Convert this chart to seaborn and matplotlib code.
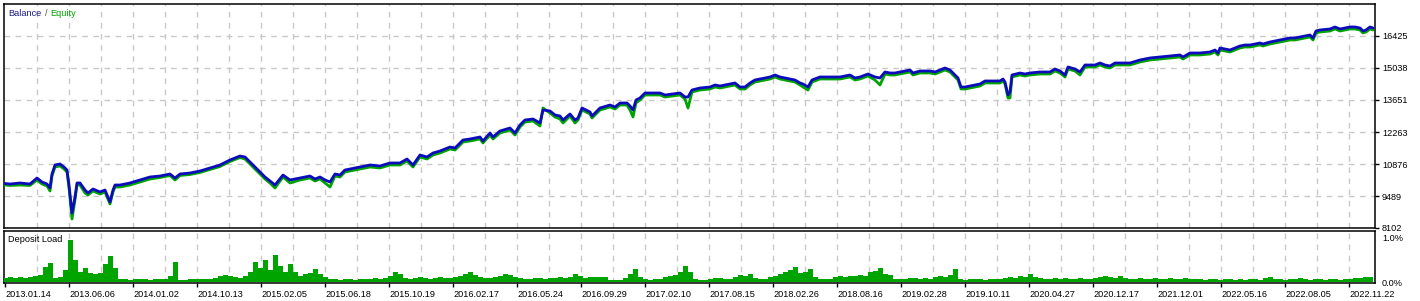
import numpy as np
import pandas as pd
import matplotlib
matplotlib.use("Agg")
import matplotlib.pyplot as plt
import seaborn as sns

# ---------------- data ----------------
deal = [0, 10, 20, 30, 37, 42, 47, 50, 52, 55, 60, 64, 67, 69, 72, 75, 77, 80, 85, 88,
        93, 100, 105, 110, 113, 115, 120, 130, 140, 150, 160, 170, 175, 180, 190, 200, 210, 220, 230, 240,
        245, 250, 255, 260, 265, 270, 275, 283, 290, 300, 310, 315, 320, 325, 330, 335, 340, 345, 350, 360,
        370, 380, 390, 400, 407, 413, 420, 427, 433, 440, 450, 455, 463, 470, 480, 483, 490, 493, 500, 510,
        515, 520, 525, 533, 540, 543, 550, 555, 560, 563, 570, 575, 578, 582, 590, 592, 600, 610, 615, 620,
        627, 630, 633, 636, 640, 645, 650, 660, 665, 680, 685, 688, 692, 700, 710, 715, 720, 725, 735, 740,
        745, 750, 755, 760, 770, 775, 780, 790, 795, 800, 803, 808, 812, 820, 830, 840, 850, 855, 860, 868,
        875, 880, 885, 890, 895, 900, 910, 913, 920, 930, 935, 940, 945, 950, 955, 958, 961, 965, 970, 975,
        980, 985, 990, 1000, 1003, 1005, 1008, 1010, 1012, 1020, 1025, 1030, 1040, 1050, 1055, 1060, 1065, 1068, 1075, 1080,
        1085, 1095, 1100, 1105, 1110, 1115, 1125, 1130, 1140, 1150, 1160, 1170, 1180, 1183, 1190, 1200, 1210, 1215, 1218, 1220,
        1225, 1230, 1235, 1240, 1245, 1250, 1255, 1260, 1263, 1270, 1275, 1280, 1285, 1290, 1295, 1300, 1305, 1310, 1313, 1316,
        1320, 1330, 1335, 1340, 1345, 1350, 1355, 1360, 1363, 1366, 1370, 1373]

balance = [10053, 10009, 10053, 10009, 10269, 10096, 10009, 9836, 10443, 10833, 10876, 10746, 10616, 9966, 8752, 9446, 10053, 10053, 9749, 9619,
           9793, 9663, 9749, 9229, 9749, 9966, 9966, 10053, 10183, 10313, 10356, 10443, 10269, 10443, 10486, 10573, 10703, 10833, 11050, 11223,
           11180, 10963, 10746, 10530, 10313, 10139, 9966, 10399, 10183, 10269, 10356, 10226, 10313, 10183, 10096, 10443, 10399, 10616, 10660, 10746,
           10833, 10790, 10920, 10920, 11093, 10833, 11267, 11180, 11353, 11440, 11613, 11570, 11917, 11960, 12047, 11873, 12220, 12047, 12307, 12437,
           12220, 12567, 12784, 12827, 12654, 13217, 13174, 13001, 12957, 12784, 13044, 12784, 12871, 13304, 13131, 12957, 13304, 13434, 13347, 13521,
           13521, 13391, 13217, 13651, 13738, 13954, 13954, 13954, 13868, 13954, 13781, 13781, 14084, 14171, 14214, 14301, 14258, 14301, 14388, 14214,
           14214, 14388, 14518, 14561, 14648, 14735, 14648, 14561, 14518, 14388, 14344, 14214, 14518, 14648, 14648, 14648, 14735, 14605, 14648, 14778,
           14648, 14605, 14865, 14821, 14821, 14865, 14951, 14821, 14908, 14908, 14865, 14951, 15038, 14951, 14735, 14605, 14214, 14214, 14258, 14301,
           14344, 14475, 14475, 14475, 14561, 14431, 13868, 13998, 14735, 14821, 14778, 14821, 14865, 14865, 14995, 14908, 14735, 15081, 14995, 14865,
           15168, 15168, 15255, 15168, 15125, 15255, 15255, 15255, 15385, 15472, 15515, 15558, 15602, 15515, 15688, 15688, 15732, 15818, 15688, 15905,
           15862, 15818, 15905, 15992, 16035, 16035, 16079, 16122, 16079, 16165, 16209, 16252, 16295, 16339, 16339, 16382, 16425, 16469, 16339, 16642,
           16686, 16729, 16816, 16729, 16772, 16816, 16816, 16772, 16642, 16686, 16816, 16772]

equity = [9988, 9945, 9966, 9945, 10183, 10009, 9923, 9706, 10356, 10746, 10790, 10660, 10530, 9836, 8492, 9316, 9966, 9966, 9619, 9532,
          9706, 9576, 9663, 9142, 9663, 9879, 9879, 9966, 10096, 10226, 10291, 10378, 10183, 10378, 10421, 10508, 10638, 10768, 10985, 11158,
          11093, 10876, 10660, 10443, 10226, 10053, 9836, 10313, 10053, 10183, 10269, 10139, 10226, 10053, 9879, 10356, 10313, 10530, 10573, 10660,
          10746, 10703, 10833, 10833, 11006, 10746, 11180, 11093, 11267, 11353, 11527, 11483, 11830, 11873, 11960, 11787, 12134, 11960, 12220, 12350,
          12134, 12480, 12697, 12740, 12524, 13304, 13087, 12914, 12827, 12654, 12957, 12654, 12784, 13217, 13044, 12871, 13217, 13347, 13261, 13434,
          13434, 13217, 12914, 13521, 13651, 13868, 13868, 13868, 13781, 13868, 13694, 13304, 13998, 14084, 14128, 14214, 14171, 14214, 14301, 14128,
          14128, 14301, 14431, 14475, 14561, 14648, 14561, 14475, 14431, 14301, 14214, 14084, 14431, 14561, 14561, 14561, 14648, 14518, 14561, 14691,
          14518, 14301, 14778, 14735, 14735, 14778, 14865, 14735, 14821, 14821, 14778, 14865, 14951, 14865, 14648, 14518, 14128, 14128, 14171, 14214,
          14258, 14388, 14388, 14388, 14475, 14344, 13738, 13738, 14648, 14735, 14691, 14735, 14778, 14778, 14908, 14821, 14648, 14995, 14908, 14735,
          15081, 15081, 15168, 15081, 15038, 15168, 15168, 15168, 15298, 15385, 15428, 15472, 15515, 15428, 15602, 15602, 15645, 15732, 15602, 15818,
          15775, 15732, 15818, 15905, 15949, 15949, 15992, 16035, 15992, 16079, 16122, 16165, 16209, 16252, 16252, 16295, 16339, 16382, 16252, 16555,
          16599, 16642, 16729, 16642, 16686, 16729, 16729, 16686, 16555, 16599, 16729, 16686]

load_deal = list(range(0, 1371, 5))
load_pct = [0.07, 0.09, 0.11, 0.09, 0.11, 0.09, 0.11, 0.13, 0.16, 0.33,
            0.42, 0.09, 0.11, 0.27, 0.93, 0.49, 0.22, 0.31, 0.20, 0.18,
            0.20, 0.40, 0.58, 0.31, 0.07, 0.07, 0.04, 0.07, 0.07, 0.07,
            0.04, 0.07, 0.07, 0.07, 0.13, 0.44, 0.04, 0.04, 0.07, 0.07,
            0.07, 0.07, 0.07, 0.09, 0.13, 0.16, 0.13, 0.11, 0.09, 0.13,
            0.22, 0.44, 0.31, 0.49, 0.27, 0.60, 0.36, 0.22, 0.40, 0.22,
            0.13, 0.18, 0.20, 0.29, 0.18, 0.11, 0.07, 0.07, 0.04, 0.07,
            0.07, 0.04, 0.07, 0.07, 0.07, 0.09, 0.07, 0.09, 0.13, 0.22,
            0.18, 0.09, 0.07, 0.09, 0.11, 0.09, 0.07, 0.09, 0.11, 0.09,
            0.09, 0.11, 0.13, 0.18, 0.22, 0.16, 0.11, 0.09, 0.09, 0.11,
            0.13, 0.18, 0.16, 0.11, 0.09, 0.07, 0.07, 0.09, 0.09, 0.07,
            0.09, 0.09, 0.11, 0.09, 0.11, 0.18, 0.13, 0.09, 0.11, 0.11,
            0.11, 0.11, 0.04, 0.04, 0.04, 0.09, 0.18, 0.29, 0.11, 0.07,
            0.04, 0.07, 0.07, 0.11, 0.13, 0.16, 0.22, 0.36, 0.22, 0.07,
            0.04, 0.04, 0.07, 0.09, 0.09, 0.07, 0.07, 0.11, 0.16, 0.13,
            0.18, 0.09, 0.07, 0.07, 0.11, 0.13, 0.18, 0.22, 0.27, 0.33,
            0.20, 0.22, 0.29, 0.11, 0.07, 0.07, 0.07, 0.11, 0.13, 0.11,
            0.13, 0.13, 0.16, 0.13, 0.22, 0.24, 0.31, 0.18, 0.16, 0.07,
            0.07, 0.07, 0.09, 0.09, 0.07, 0.09, 0.07, 0.11, 0.13, 0.11,
            0.16, 0.29, 0.07, 0.04, 0.07, 0.07, 0.07, 0.04, 0.07, 0.07,
            0.07, 0.09, 0.11, 0.09, 0.13, 0.11, 0.18, 0.11, 0.09, 0.07,
            0.07, 0.09, 0.07, 0.09, 0.07, 0.07, 0.09, 0.07, 0.07, 0.09,
            0.11, 0.13, 0.11, 0.09, 0.13, 0.09, 0.07, 0.07, 0.09, 0.07,
            0.07, 0.09, 0.07, 0.07, 0.09, 0.07, 0.07, 0.09, 0.07, 0.07,
            0.07, 0.04, 0.07, 0.07, 0.04, 0.07, 0.07, 0.04, 0.07, 0.04,
            0.07, 0.07, 0.04, 0.09, 0.11, 0.07, 0.07, 0.04, 0.07, 0.07,
            0.09, 0.07, 0.04, 0.07, 0.07, 0.04, 0.07, 0.07, 0.04, 0.07,
            0.07, 0.09, 0.09, 0.11, 0.11]

date_labels = ["2013.01.14", "2013.06.06", "2014.01.02", "2014.10.13", "2015.02.05", "2015.06.18",
               "2015.10.19", "2016.02.17", "2016.05.24", "2016.09.29", "2017.02.10", "2017.08.15",
               "2018.02.26", "2018.08.16", "2019.02.28", "2019.10.11", "2020.04.27", "2020.12.17",
               "2021.12.01", "2022.05.16", "2022.08.05", "2022.11.22"]
balance_ticks = [8102, 9489, 10876, 12263, 13651, 15038, 16425]
balance_top = 17812
load_ticks = [0.0, 1.0]
load_tick_labels = ["0.0%", "1.0%"]

# ---------------- style ----------------
sns.set_theme(style="white")
plt.rcParams['font.family'] = ['Liberation Sans', 'DejaVu Sans']
plt.rcParams['font.size'] = 6.6

BLUE = '#0C0CBC'
GREEN = '#00A400'
GRID = '#c8c8c8'

W, H = 1420, 301
fig = plt.figure(figsize=(W / 100, H / 100), dpi=100)
fig.patch.set_facecolor('white')
ax1 = fig.add_axes([4 / W, 1 - 228 / H, 1371 / W, 224 / H])
ax2 = fig.add_axes([4 / W, 1 - 283 / H, 1371 / W, 52 / H])

df = pd.DataFrame({'deal': deal, 'balance': balance, 'equity': equity})
sns.lineplot(data=df, x='deal', y='equity', color=GREEN, linewidth=2.0, ax=ax1, zorder=3)
sns.lineplot(data=df, x='deal', y='balance', color=BLUE, linewidth=2.0, ax=ax1, zorder=4)

sns.barplot(x=load_deal, y=load_pct, native_scale=True, color=GREEN, saturation=1,
            width=1.0, linewidth=0, errorbar=None, ax=ax2, zorder=3)

x_lo, x_hi = 4, 1375
n_grid = 43
grid_x = [5 + 32 * k for k in range(1, n_grid)]
label_x = [5 + 64 * k for k in range(len(date_labels))]

for ax in (ax1, ax2):
    ax.set_xlim(x_lo, x_hi)
    ax.set_xlabel('')
    ax.set_ylabel('')
    ax.set_facecolor('white')
    ax.set_axisbelow(True)
    for s in ax.spines.values():
        s.set_color('black')
        s.set_linewidth(1.1)
        s.set_visible(True)
    for gx in grid_x:
        ax.axvline(gx, color=GRID, linestyle=(0, (4, 4)), linewidth=1.0, zorder=1)

# top panel
ax1.set_ylim(balance_ticks[0], balance_top)
ax1.yaxis.tick_right()
ax1.set_yticks(balance_ticks)
ax1.set_yticklabels([str(v) for v in balance_ticks])
ax1.tick_params(axis='y', right=True, left=False, length=3, width=1, color='black', pad=2,
                labelsize=6.6, labelcolor='black')
ax1.set_xticks([])
for gy in balance_ticks[1:]:
    ax1.axhline(gy, color=GRID, linestyle=(0, (4, 4)), linewidth=1.0, zorder=1)

# bottom panel
ax2.set_ylim(-0.022, 1.134)
ax2.yaxis.tick_right()
ax2.set_yticks(load_ticks)
ax2.set_yticklabels(load_tick_labels)
ax2.tick_params(axis='y', right=True, left=False, length=0, pad=5, labelsize=6.6, labelcolor='black')
ax2.set_xticks(label_x)
ax2.set_xticklabels(date_labels, ha='left')
ax2.tick_params(axis='x', bottom=True, length=3, width=1, color='black', pad=2,
                labelsize=6.6, labelcolor='black')
for lbl in ax2.get_xticklabels():
    lbl.set_horizontalalignment('left')

# titles
fig.text(8 / W, 1 - 13 / H, "Balance", color='#1a1a8c', fontsize=6.6, ha='left', va='center')
fig.text(45 / W, 1 - 13 / H, "/", color='#505050', fontsize=6.6, ha='left', va='center')
fig.text(50 / W, 1 - 13 / H, "Equity", color=GREEN, fontsize=6.6, ha='left', va='center')
fig.text(8 / W, 1 - 239 / H, "Deposit Load", color='black', fontsize=6.6, ha='left', va='center')

fig.savefig('out.png', dpi=100, facecolor='white')
